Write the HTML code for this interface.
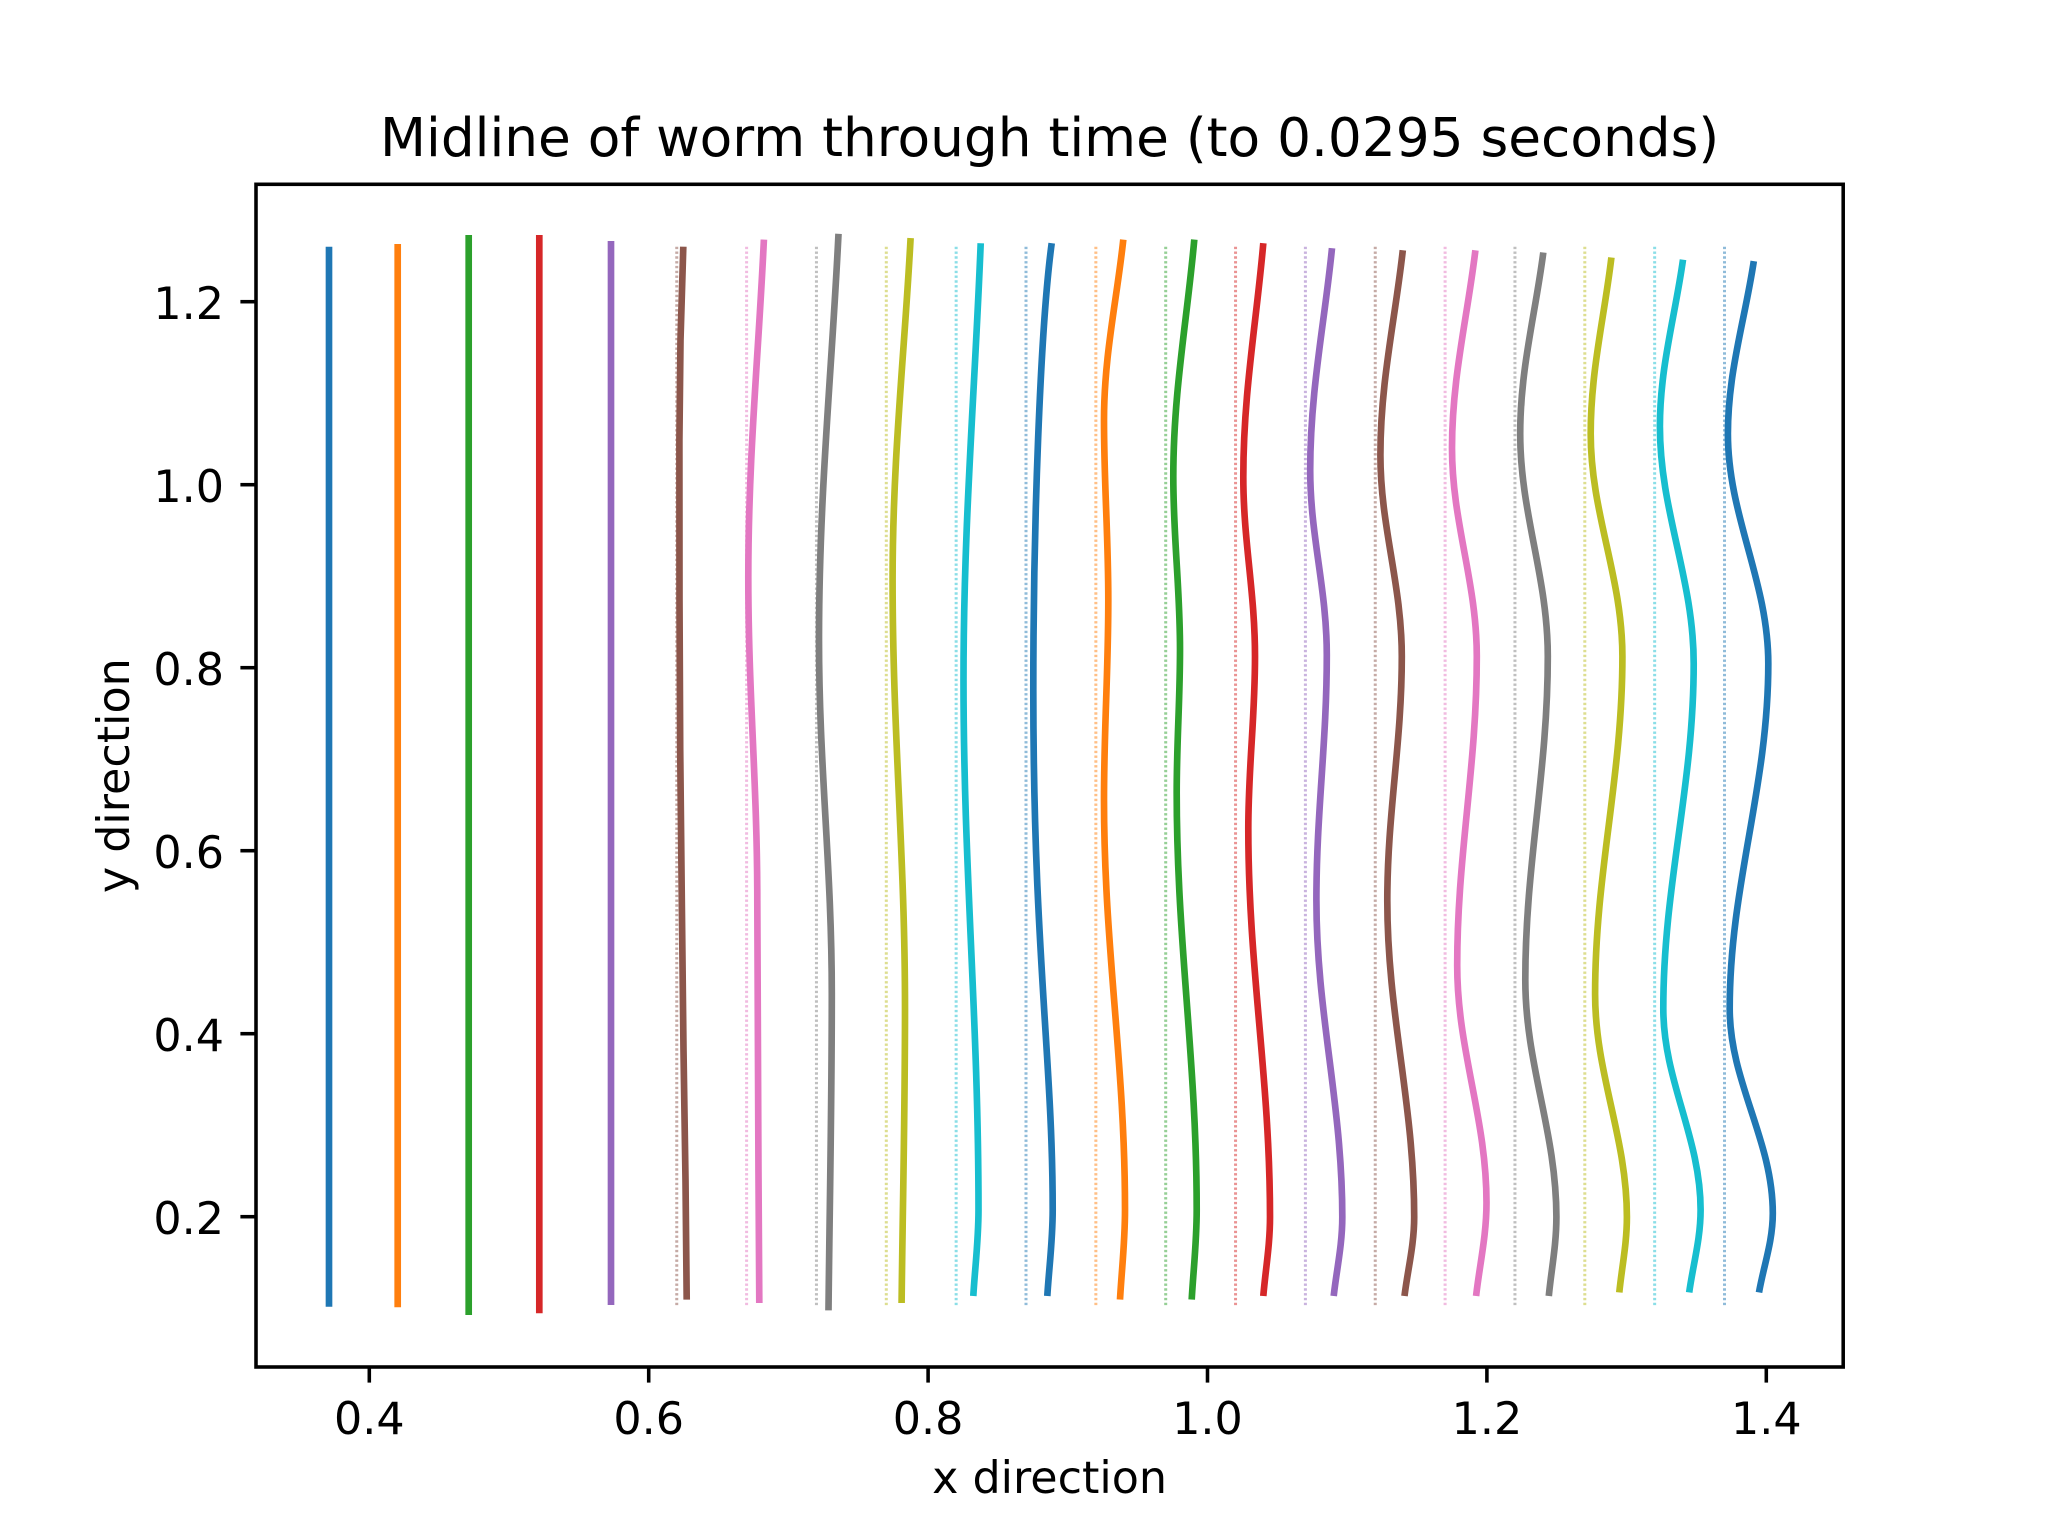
<!DOCTYPE html>
<html>
<head>
<meta charset="utf-8">
<style>
html,body{margin:0;padding:0;background:#fff;}
svg{display:block;}
text{font-family:"DejaVu Sans","Liberation Sans",sans-serif;fill:#000;}
</style>
</head>
<body>
<svg width="2048" height="1536" viewBox="0 0 2048 1536" xmlns="http://www.w3.org/2000/svg">
<rect x="0" y="0" width="2048" height="1536" fill="#fff"/>

<!-- title -->
<text x="1049.6" y="156" font-size="53.3" text-anchor="middle">Midline of worm through time (to 0.0295 seconds)</text>

<!-- dotted reference lines -->
<g fill="none" stroke-width="3" stroke-dasharray="2.4 2.4" stroke-opacity="0.5">
<line x1="676.75" y1="246.7" x2="676.75" y2="1306.7" stroke="#8c564b"/>
<line x1="746.6" y1="246.7" x2="746.6" y2="1306.7" stroke="#e377c2"/>
<line x1="816.45" y1="246.7" x2="816.45" y2="1306.7" stroke="#7f7f7f"/>
<line x1="886.3" y1="246.7" x2="886.3" y2="1306.7" stroke="#bcbd22"/>
<line x1="956.15" y1="246.7" x2="956.15" y2="1306.7" stroke="#17becf"/>
<line x1="1026" y1="246.7" x2="1026" y2="1306.7" stroke="#1f77b4"/>
<line x1="1095.85" y1="246.7" x2="1095.85" y2="1306.7" stroke="#ff7f0e"/>
<line x1="1165.7" y1="246.7" x2="1165.7" y2="1306.7" stroke="#2ca02c"/>
<line x1="1235.55" y1="246.7" x2="1235.55" y2="1306.7" stroke="#d62728"/>
<line x1="1305.4" y1="246.7" x2="1305.4" y2="1306.7" stroke="#9467bd"/>
<line x1="1375.25" y1="246.7" x2="1375.25" y2="1306.7" stroke="#8c564b"/>
<line x1="1445.1" y1="246.7" x2="1445.1" y2="1306.7" stroke="#e377c2"/>
<line x1="1514.95" y1="246.7" x2="1514.95" y2="1306.7" stroke="#7f7f7f"/>
<line x1="1584.8" y1="246.7" x2="1584.8" y2="1306.7" stroke="#bcbd22"/>
<line x1="1654.65" y1="246.7" x2="1654.65" y2="1306.7" stroke="#17becf"/>
<line x1="1724.5" y1="246.7" x2="1724.5" y2="1306.7" stroke="#1f77b4"/>
</g>

<!-- worm midlines -->
<g fill="none" stroke-width="6.67" stroke-linecap="butt" stroke-linejoin="round">
<line x1="329" y1="246.7" x2="329" y2="1306.7" stroke="#1f77b4"/>
<line x1="397.7" y1="244" x2="397.7" y2="1307.3" stroke="#ff7f0e"/>
<line x1="468.7" y1="235" x2="468.7" y2="1315" stroke="#2ca02c"/>
<line x1="539.3" y1="235" x2="539.3" y2="1313.3" stroke="#d62728"/>
<line x1="611" y1="241" x2="611" y2="1305" stroke="#9467bd"/>
<polyline stroke="#8c564b" points="683.3,246.7 680.5,340 679.4,440 679.5,600 680.2,750 681.8,900 683.5,1050 685.5,1180 686.7,1299.6"/>
<path stroke="#e377c2" d="M763.9 239.6 C758.7 352.2 748.3 455.7 748.3 577.3 C748.3 693.7 757.3 784.3 757.3 900.7 C757.3 1045.5 758.6 1168.9 759.3 1303"/>
<path stroke="#7f7f7f" d="M838.5 233.8 C832 369.2 819 493.8 819 640 C819 767.4 831.8 866.6 831.8 994 C831.8 1107.9 829.6 1204.9 828.5 1310.4"/>
<path stroke="#bcbd22" d="M910.6 238.1 C904.6 352 892.6 456.9 892.6 580 C892.6 734.3 905 854.2 905 1008.5 C905 1114.5 902.7 1204.8 901.6 1303"/>
<path stroke="#17becf" d="M980.7 243.2 C975 388.8 963.5 522.8 963.5 680 C963.5 870.7 978.5 1019 978.5 1209.7 C978.5 1240.7 975 1267.2 973.3 1296"/>
<path stroke="#1f77b4" d="M1051.7 243.2 C1040 330 1033.3 529.2 1033.3 690 C1033.3 950 1052.7 1060 1052.7 1209.7 C1052.7 1240.7 1049.1 1267.1 1047.3 1296"/>
<path stroke="#ff7f0e" d="M1123.3 239.6 C1116.9 299.7 1104 355.1 1104 420 C1104 484.8 1108.3 535.2 1108.3 600 C1108.3 672 1104 728 1104 800 C1104 947.5 1125 1062.2 1125 1209.7 C1125 1242.1 1121.7 1269.6 1120 1299.6"/>
<path stroke="#2ca02c" d="M1194.3 239.6 C1187.3 318.6 1173.3 391.3 1173.3 476.7 C1173.3 538.8 1180 587.1 1180 649.2 C1180 700.9 1176.7 741.2 1176.7 792.9 C1176.7 942.9 1196.7 1059.7 1196.7 1209.7 C1196.7 1242.1 1193.4 1269.6 1191.7 1299.6"/>
<path stroke="#d62728" d="M1263.3 243.2 C1256.6 321 1243.3 392.6 1243.3 476.7 C1243.3 541.4 1255 591.7 1255 656.4 C1255 718.5 1248.3 766.7 1248.3 828.8 C1248.3 968.5 1270 1077.2 1270 1216.9 C1270 1245.4 1265.5 1269.6 1263.3 1296"/>
<path stroke="#9467bd" d="M1332 248.2 C1324.7 322.1 1310.2 390.2 1310.2 470 C1310.2 536.6 1326.8 588.4 1326.8 655 C1326.8 743.2 1316.4 811.8 1316.4 900 C1316.4 1014.1 1342.3 1102.8 1342.3 1216.9 C1342.3 1245.4 1336.6 1269.6 1333.7 1296"/>
<path stroke="#8c564b" d="M1402.8 250.3 C1395.3 318.5 1380.4 381.3 1380.4 455 C1380.4 527.5 1401.8 583.9 1401.8 656.4 C1401.8 744.4 1387.3 812.7 1387.3 900.7 C1387.3 1014.5 1414.2 1103.1 1414.2 1216.9 C1414.2 1245.4 1407.7 1269.6 1404.5 1296"/>
<path stroke="#e377c2" d="M1475.4 250.3 C1467.6 316.2 1452 376.8 1452 448 C1452 523 1476.8 581.4 1476.8 656.4 C1476.8 767.6 1457.2 854.2 1457.2 965.4 C1457.2 1050.8 1486.5 1117.1 1486.5 1202.5 C1486.5 1236.2 1479.6 1264.8 1476.1 1296"/>
<path stroke="#7f7f7f" d="M1543.3 252.5 C1535.6 312.9 1520.2 368.4 1520.2 433.6 C1520.2 513.8 1547.8 576.2 1547.8 656.4 C1547.8 772.8 1525.3 863.4 1525.3 979.8 C1525.3 1065.2 1556.4 1131.5 1556.4 1216.9 C1556.4 1245.4 1551.3 1269.6 1548.8 1296"/>
<path stroke="#bcbd22" d="M1611.4 257.5 C1604.5 316.2 1590.7 370.2 1590.7 433.6 C1590.7 513.8 1622.4 576.2 1622.4 656.4 C1622.4 778 1595.1 872.5 1595.1 994.1 C1595.1 1074.3 1626.9 1136.7 1626.9 1216.9 C1626.9 1244.1 1621.8 1267.2 1619.3 1292.4"/>
<path stroke="#17becf" d="M1683 259.7 C1675.3 315.3 1659.9 366.4 1659.9 426.4 C1659.9 511.8 1693.7 578.2 1693.7 663.6 C1693.7 787.8 1663.3 884.3 1663.3 1008.5 C1663.3 1080.9 1700.6 1137.3 1700.6 1209.7 C1700.6 1239.5 1693 1264.8 1689.2 1292.4"/>
<path stroke="#1f77b4" d="M1753.8 261.1 C1745.2 318.6 1727.9 371.5 1727.9 433.6 C1727.9 516.4 1768.3 580.8 1768.3 663.6 C1768.3 787.8 1729.7 884.3 1729.7 1008.5 C1729.7 1082.2 1772.8 1139.6 1772.8 1213.3 C1772.8 1241.8 1763.6 1266 1759 1292.4"/>
</g>

<!-- axes frame -->
<rect x="256" y="184.3" width="1587.2" height="1182.7" fill="none" stroke="#000" stroke-width="3.56" stroke-linejoin="miter"/>

<!-- y ticks -->
<g stroke="#000" stroke-width="3.56">
<line x1="240.4" y1="1216.7" x2="256" y2="1216.7"/>
<line x1="240.4" y1="1033.7" x2="256" y2="1033.7"/>
<line x1="240.4" y1="850.7" x2="256" y2="850.7"/>
<line x1="240.4" y1="667.7" x2="256" y2="667.7"/>
<line x1="240.4" y1="484.7" x2="256" y2="484.7"/>
<line x1="240.4" y1="301.7" x2="256" y2="301.7"/>
</g>
<g font-size="44.4" text-anchor="end">
<text x="224" y="1234.2">0.2</text>
<text x="224" y="1051.2">0.4</text>
<text x="224" y="868.2">0.6</text>
<text x="224" y="685.2">0.8</text>
<text x="224" y="502.2">1.0</text>
<text x="224" y="319.2">1.2</text>
</g>

<!-- x ticks -->
<g stroke="#000" stroke-width="3.56">
<line x1="369.3" y1="1367" x2="369.3" y2="1382.6"/>
<line x1="648.7" y1="1367" x2="648.7" y2="1382.6"/>
<line x1="928.1" y1="1367" x2="928.1" y2="1382.6"/>
<line x1="1207.5" y1="1367" x2="1207.5" y2="1382.6"/>
<line x1="1486.9" y1="1367" x2="1486.9" y2="1382.6"/>
<line x1="1766.3" y1="1367" x2="1766.3" y2="1382.6"/>
</g>
<g font-size="44.4" text-anchor="middle">
<text x="369.3" y="1434">0.4</text>
<text x="648.7" y="1434">0.6</text>
<text x="928.1" y="1434">0.8</text>
<text x="1207.5" y="1434">1.0</text>
<text x="1486.9" y="1434">1.2</text>
<text x="1766.3" y="1434">1.4</text>
</g>

<!-- axis labels -->
<text x="1049.6" y="1493" font-size="44.4" text-anchor="middle">x direction</text>
<text x="0" y="0" font-size="44.4" text-anchor="middle" transform="translate(129,775.7) rotate(-90)">y direction</text>
</svg>
</body>
</html>
